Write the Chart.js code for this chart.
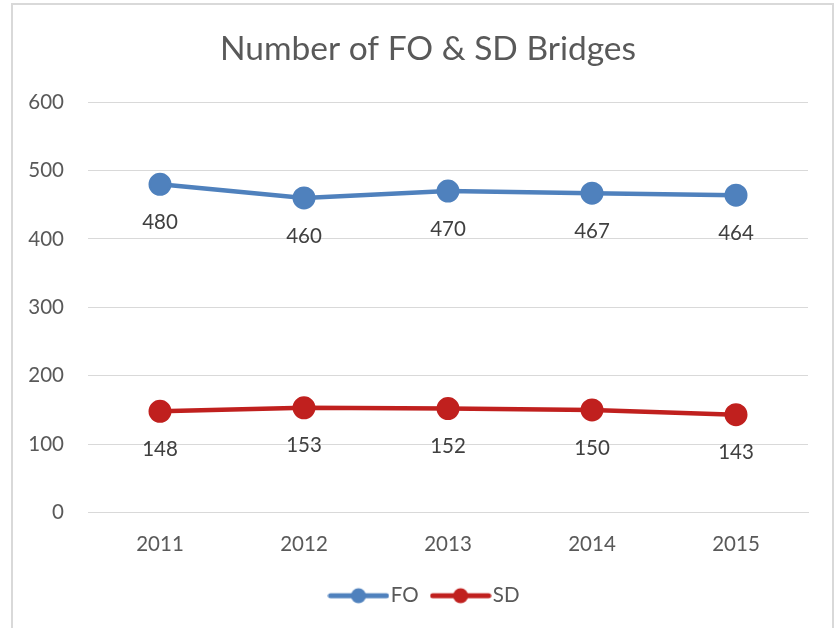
<!DOCTYPE html>
<html>
<head>
<meta charset="utf-8">
<script src="https://cdn.jsdelivr.net/npm/chart.js@4/dist/chart.umd.min.js"></script>
<style>
html,body{margin:0;padding:0;background:#fff;width:838px;height:628px;overflow:hidden;}
#frame{position:absolute;left:11px;top:3px;width:823px;height:700px;border:2px solid #d9d9d9;box-sizing:border-box;}
#c{position:absolute;left:0;top:0;}
</style>
</head>
<body>
<div id="frame"></div>
<canvas id="c" width="838" height="628"></canvas>
<script>
const titleText = 'Number of FO & SD Bridges';
const categories = ['2011','2012','2013','2014','2015'];
const foValues = [480, 460, 470, 467, 464];
const sdValues = [148, 153, 152, 150, 143];
const seriesNames = ['FO','SD'];
const yTicks = [0,100,200,300,400,500,600];

const FONT = 'Lato, "Open Sans", sans-serif';
const blue = '#4F81BD';
const red = '#C0201E';
const textGrey = '#595959';

function legendIcon(color){
  const cv = document.createElement('canvas');
  cv.width = 62; cv.height = 20;
  const ctx = cv.getContext('2d');
  ctx.strokeStyle = color; ctx.lineWidth = 5; ctx.lineCap = 'round';
  ctx.beginPath(); ctx.moveTo(3,10); ctx.lineTo(59,10); ctx.stroke();
  ctx.fillStyle = color;
  ctx.beginPath(); ctx.arc(31,10,7.5,0,Math.PI*2); ctx.fill();
  return cv;
}
const icons = [legendIcon(blue), legendIcon(red)];

const dataLabels = {
  id:'dataLabels',
  afterDatasetsDraw(chart){
    const ctx = chart.ctx;
    ctx.save();
    ctx.font = '20.5px ' + FONT;
    ctx.fillStyle = '#404040';
    ctx.textAlign = 'center';
    ctx.textBaseline = 'middle';
    chart.data.datasets.forEach((ds,i)=>{
      const meta = chart.getDatasetMeta(i);
      meta.data.forEach((pt,j)=>{
        ctx.fillText(String(ds.data[j]), pt.x, pt.y + 38);
      });
    });
    ctx.restore();
  }
};

new Chart(document.getElementById('c'), {
  type:'line',
  data:{
    labels: categories,
    datasets:[
      {label:seriesNames[0], data:foValues, borderColor:blue, backgroundColor:blue, borderWidth:4.5,
       pointRadius:10.5, pointHoverRadius:10.5, pointBackgroundColor:blue, pointBorderColor:blue, pointBorderWidth:2, tension:0},
      {label:seriesNames[1], data:sdValues, borderColor:red, backgroundColor:red, borderWidth:4.5,
       pointRadius:10.5, pointHoverRadius:10.5, pointBackgroundColor:red, pointBorderColor:red, pointBorderWidth:2, tension:0}
    ]
  },
  options:{
    responsive:false,
    animation:false,
    devicePixelRatio:1,
    layout:{padding:{left:18,right:0,top:0,bottom:12}},
    plugins:{
      title:{display:true, text:titleText, color:textGrey, font:{family:FONT,size:33.5,weight:'normal'}, padding:{top:29,bottom:33}},
      legend:{position:'bottom', labels:{
        font:{family:FONT,size:20.5}, color:textGrey, usePointStyle:true, pointStyleWidth:44, padding:20,
        generateLabels(chart){
          return chart.data.datasets.map((ds,i)=>({text:ds.label, pointStyle:icons[i], fillStyle:ds.borderColor, strokeStyle:ds.borderColor, lineWidth:0, datasetIndex:i, fontColor:textGrey}));
        }
      }},
      tooltip:{enabled:false}
    },
    scales:{
      x:{
        offset:true,
        grid:{display:false, drawTicks:false, offset:true},
        border:{display:true, color:'#d9d9d9', width:1},
        ticks:{color:textGrey, font:{family:FONT,size:20.5}, padding:20},
        afterFit(s){ s.height = 53; }
      },
      y:{
        min:0, max:600,
        afterBuildTicks(s){ s.ticks = yTicks.map(v=>({value:v})); },
        grid:{color:'#d9d9d9', lineWidth:1, drawTicks:false},
        border:{display:false},
        ticks:{color:textGrey, font:{family:FONT,size:20.5}, padding:24},
        afterFit(s){ s.width = 70; }
      },
      y2:{
        position:'right', display:true, min:0, max:600,
        grid:{display:false, drawOnChartArea:false, drawTicks:false},
        border:{display:false},
        ticks:{display:false},
        afterFit(s){ s.width = 30; }
      }
    }
  },
  plugins:[dataLabels]
});
</script>
</body>
</html>
